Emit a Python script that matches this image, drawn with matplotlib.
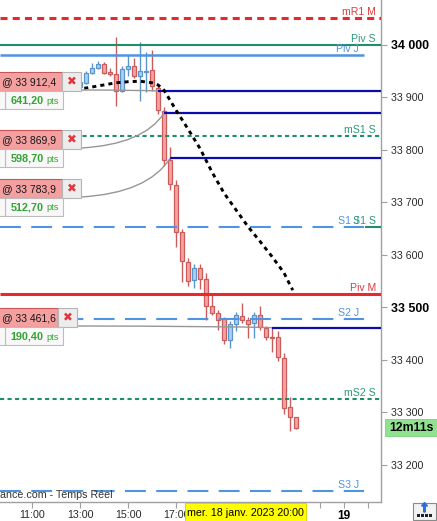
import matplotlib
matplotlib.use("Agg")
import matplotlib.pyplot as plt
from matplotlib.patches import Rectangle, PathPatch, FancyArrow
from matplotlib.path import Path
from matplotlib.transforms import Affine2D

plt.rcParams['font.family'] = ['Liberation Sans', 'DejaVu Sans']

# ---------------- data ----------------
times = ["13:00", "13:15", "13:30", "13:45", "14:00", "14:15", "14:30", "14:45",
         "15:00", "15:15", "15:30", "15:45", "16:00", "16:15", "16:30", "16:45",
         "17:00", "17:15", "17:30", "17:45", "18:00", "18:15", "18:30", "18:45",
         "19:00", "19:15", "19:30", "19:45", "20:00", "20:15", "20:30", "20:45",
         "21:00", "21:15", "21:30", "21:45", "22:00"]
opens = [33920, 33928, 33946, 33957, 33964, 33949, 33944, 33912, 33954, 33960,
         33940, 33949, 33952, 33918, 33875, 33781, 33733, 33643, 33587, 33552,
         33575, 33554, 33502, 33490, 33478, 33438, 33468, 33484, 33477, 33470,
         33486, 33460, 33443, 33443, 33403, 33310, 33291]
highs = [33934, 33950, 33965, 33970, 33968, 33956, 34016, 33960, 33980, 33975,
         34005, 33987, 33990, 33925, 33882, 33806, 33743, 33650, 33595, 33582,
         33583, 33565, 33528, 33495, 33482, 33475, 33492, 33509, 33482, 33492,
         33503, 33464, 33463, 33455, 33413, 33330, 33291]
lows = [33915, 33925, 33944, 33955, 33945, 33940, 33883, 33910, 33940, 33938,
        33893, 33911, 33913, 33868, 33770, 33724, 33616, 33549, 33540, 33537,
        33535, 33476, 33485, 33457, 33430, 33423, 33455, 33470, 33442, 33442,
        33458, 33439, 33416, 33399, 33297, 33265, 33268]
closes = [33930, 33946, 33957, 33964, 33947, 33944, 33912, 33954, 33960, 33940,
          33951, 33951, 33921, 33876, 33781, 33735, 33644, 33589, 33550, 33576,
          33554, 33502, 33490, 33476, 33438, 33468, 33486, 33477, 33468, 33486,
          33463, 33443, 33441, 33406, 33308, 33291, 33271.2]

ma_times = ["12:30", "13:00", "13:30", "14:00", "14:30", "15:00", "15:30", "16:00",
            "16:15", "16:30", "16:45", "17:00", "17:30", "18:00", "18:30", "19:00",
            "19:30", "20:00", "20:30", "21:00", "21:30", "21:45", "21:52"]
ma_values = [33914, 33916, 33920, 33924, 33928, 33930, 33931, 33928,
             33924, 33914, 33895, 33876, 33840, 33803, 33758, 33718,
             33686, 33654, 33626, 33597, 33566, 33543, 33533]

level_names = ["mR1 M", "Piv S", "Piv J", "mS1 S", "S1 J", "S1 S", "Piv M", "S2 J", "mS2 S", "S3 J"]
level_values = [34051, 34000, 33981, 33827, 33654, 33654, 33526, 33479, 33326, 33151]

order_prices = [33912.4, 33869.9, 33783.9, 33461.6]
order_times = ["16:15", "16:30", "16:45", "21:00"]

ytick_values = [33200, 33300, 33400, 33500, 33600, 33700, 33800, 33900, 34000]
xtick_times = ["11:00", "13:00", "15:00", "17:00", "19:00", "20:00", "21:00", "23:00", "24:00", "25:00"]
xtick_labels = ["11:00", "13:00", "15:00", "17:00", "", "", "", "", "19", ""]
cursor_label = "mer. 18 janv. 2023 20:00"
countdown = "12m11s"
source_text = "ance.com - Temps Réel"

# ---------------- layout ----------------
W, H = 437, 521
AX_R, AX_B = 381, 502
XLIM = (9.6667, 25.5417)
YLIM = (33129.5, 34085.7)

fig = plt.figure(figsize=(W / 100, H / 100), dpi=100)
fig.patch.set_facecolor('white')
ax = fig.add_axes([0, 1 - AX_B / H, AX_R / W, AX_B / H])
ax.set_xlim(*XLIM)
ax.set_ylim(*YLIM)
T = Affine2D().scale(1 / W, -1 / H).translate(0, 1) + fig.transFigure


def hours(s):
    hh, mm = s.split(":")
    return int(hh) + int(mm) / 60


def hx(h):
    return (h - XLIM[0]) / (XLIM[1] - XLIM[0]) * AX_R


def vy(v):
    return (YLIM[1] - v) / (YLIM[1] - YLIM[0]) * AX_B


def fmt_price(p):
    return f"{p:,.1f}".replace(",", " ").replace(".", ",")


# ---------------- candles ----------------
t = [hours(s) for s in times]
UP_FC, UP_EC = '#a8d1f2', '#5a95cc'
DN_FC, DN_EC = '#f5a2a2', '#cc5c5c'
for ti, o, hi, lo, c in zip(t, opens, highs, lows, closes):
    up = c >= o
    ec = UP_EC if up else DN_EC
    fc = UP_FC if up else DN_FC
    ax.vlines(ti, lo, hi, color=ec, lw=1.0, zorder=2)
    ax.bar(ti, max(abs(c - o), 1.5), bottom=min(o, c), width=0.2,
           color=fc, edgecolor=ec, lw=0.9, zorder=3)

# ---------------- levels ----------------
RED = '#e8282c'
GREEN = '#1f8f6a'
LBLUE = '#4f93e3'
styles = {
    "mR1 M": dict(color=RED, lw=2.2, ls=(0, (2.3, 1.7)), tcolor='#e23a3a', full=True),
    "Piv S": dict(color=GREEN, lw=1.5, ls='-', tcolor='#2a9a78', full=True),
    "Piv J": dict(color=LBLUE, lw=1.8, ls='-', tcolor=LBLUE, full=False),
    "mS1 S": dict(color=GREEN, lw=1.5, ls=(0, (2.0, 1.6)), tcolor='#2a9a78', full=True),
    "S1 J": dict(color=LBLUE, lw=1.5, ls=(0, (10, 5)), tcolor=LBLUE, full=False),
    "S1 S": dict(color=GREEN, lw=1.5, ls='-', tcolor='#2a9a78', full='end'),
    "Piv M": dict(color=RED, lw=2.2, ls='-', tcolor='#e23a3a', full=True),
    "S2 J": dict(color=LBLUE, lw=1.5, ls=(0, (10, 5)), tcolor=LBLUE, full=False),
    "mS2 S": dict(color=GREEN, lw=1.5, ls=(0, (2.0, 1.6)), tcolor='#2a9a78', full=True),
    "S3 J": dict(color=LBLUE, lw=1.5, ls=(0, (10, 5)), tcolor=LBLUE, full=False),
}
J_END = XLIM[0] + 364 / 24
for name, val in zip(level_names, level_values):
    st = styles[name]
    if st['full'] is True:
        x0, x1, tx = XLIM[0], XLIM[1], XLIM[0] + 376 / 24
    elif st['full'] == 'end':
        x0, x1, tx = XLIM[0] + 365 / 24, XLIM[1], XLIM[0] + 376 / 24
    else:
        x0, x1, tx = XLIM[0], J_END, XLIM[0] + 359 / 24
    ax.plot([x0, x1], [val, val], color=st['color'], lw=st['lw'], ls=st['ls'],
            zorder=4, solid_capstyle='butt')
    ax.annotate(name, xy=(tx, val), xytext=(0, 3), textcoords='offset pixels',
                ha='right', va='baseline', fontsize=7.6, color=st['tcolor'], zorder=6)

# ---------------- orders ----------------
for p, ts in zip(order_prices, order_times):
    ax.plot([hours(ts), XLIM[1]], [p, p], color='#0c0cae', lw=1.6, zorder=4,
            solid_capstyle='butt')

# ---------------- moving average ----------------
ax.plot([hours(s) for s in ma_times], ma_values, color='black', lw=2.1,
        ls=(0, (1.4, 1.4)), zorder=5)

# ---------------- axes styling ----------------
for s in ['left', 'top']:
    ax.spines[s].set_visible(False)
for s in ['right', 'bottom']:
    ax.spines[s].set_color('#a0a0a0')
    ax.spines[s].set_linewidth(1.0)
ax.yaxis.tick_right()
ax.set_yticks(ytick_values)
ax.set_yticklabels([f"{v:,}".replace(",", " ") for v in ytick_values])
ax.tick_params(axis='y', direction='out', length=4, width=0.8, color='#a0a0a0',
               pad=3, labelsize=7.7, labelcolor='#2a2a2a')
for lab, v in zip(ax.get_yticklabels(), ytick_values):
    if v in (34000, 33500):
        lab.set_fontweight('bold')
        lab.set_fontsize(8.9)
        lab.set_color('black')
ax.set_xticks([hours(s) for s in xtick_times])
ax.set_xticklabels(xtick_labels)
ax.tick_params(axis='x', direction='out', length=4, width=0.8, color='#a0a0a0',
               pad=1.5, labelsize=7.7, labelcolor='#2a2a2a')
for lab, s in zip(ax.get_xticklabels(), xtick_labels):
    if s == "19":
        lab.set_fontweight('bold')
        lab.set_fontsize(8.6)
        lab.set_color('black')

# ---------------- order labels (overlay, pixel coords) ----------------
last = closes[-1]
label_tops = [72, 130, 179, 308]
red_right = [62, 62, 62, 58]
for i, (p, ts) in enumerate(zip(order_prices, order_times)):
    top, rr = label_tops[i], red_right[i]
    xb = rr + 19
    x0, y0 = xb, top + 18
    x1, y1 = hx(hours(ts)), vy(p)
    cx, cy = x0 + 0.75 * (x1 - x0), y0 - 0.1 * (y0 - y1)
    path = Path([(x0, y0), (cx, cy), (x1, y1)], [Path.MOVETO, Path.CURVE3, Path.CURVE3])
    fig.add_artist(PathPatch(path, fc='none', ec='#969696', lw=1.0, transform=T, zorder=2))
    fig.add_artist(Rectangle((-5, top), rr + 5, 19, fc='#f5a0a0', ec='#c85555', lw=0.8,
                             transform=T, zorder=3))
    fig.add_artist(Rectangle((rr, top), 19, 19, fc='#ededed', ec='#b5b5b5', lw=0.8,
                             transform=T, zorder=3))
    fig.add_artist(Rectangle((5, top + 19), 58, 18, fc='#f8f8f8', ec='#bdbdbd', lw=0.8,
                             transform=T, zorder=3))
    fig.add_artist(Rectangle((-6, top + 19), 11, 18, fc='#f8f8f8', ec='#bdbdbd', lw=0.8,
                             transform=T, zorder=3))
    fig.text(56, top + 10, "@ " + fmt_price(p), transform=T, ha='right', va='center',
             fontsize=7.5, color='#151515', zorder=4)
    fig.text(rr + 9.5, top + 10, "\u2716", transform=T, ha='center', va='center',
             fontsize=8.5, color='#e0363c', family='DejaVu Sans', zorder=4)
    fig.text(10.5, top + 28.5, f"{p - last:.2f}".replace(".", ","), transform=T,
             ha='left', va='center', fontsize=7.8, weight='bold', color='#34a334', zorder=4)
    fig.text(46, top + 29, "pts", transform=T, ha='left', va='center',
             fontsize=6.6, color='#34a334', zorder=4)

# ---------------- other overlays ----------------
fig.text(0, 495, source_text, transform=T, ha='left', va='center', fontsize=7.7,
         color='#333333', zorder=4)
fig.add_artist(Rectangle((185, 503), 121, 18, fc='#ffff00', ec='#d0d000', lw=0.6,
                         transform=T, zorder=3))
fig.text(245.5, 512.5, cursor_label, transform=T, ha='center', va='center',
         fontsize=7.7, color='black', zorder=4)
ly = vy(last)
fig.add_artist(Rectangle((385, ly - 8.5), 52, 17, fc='#90e290', ec='#7ccf7c', lw=0.6,
                         transform=T, zorder=3))
fig.text(411, ly + 0.5, countdown, transform=T, ha='center', va='center',
         fontsize=8.8, weight='bold', color='black', zorder=4)
fig.add_artist(Rectangle((413, 503), 23, 17, fc='#f3f3f3', ec='#8a8a8a', lw=0.8,
                         transform=T, zorder=3))
fig.add_artist(FancyArrow(424.5, 512, 0, -6, width=1.6, head_width=6, head_length=3.5,
                          fc='#2d6fd6', ec='#2d6fd6', transform=T, zorder=4))
for k in range(4):
    fig.add_artist(Rectangle((417 + k * 4, 514), 2.6, 2.6, fc='#222222', ec='none',
                             transform=T, zorder=4))

fig.savefig("out.png", dpi=100, facecolor='white')
